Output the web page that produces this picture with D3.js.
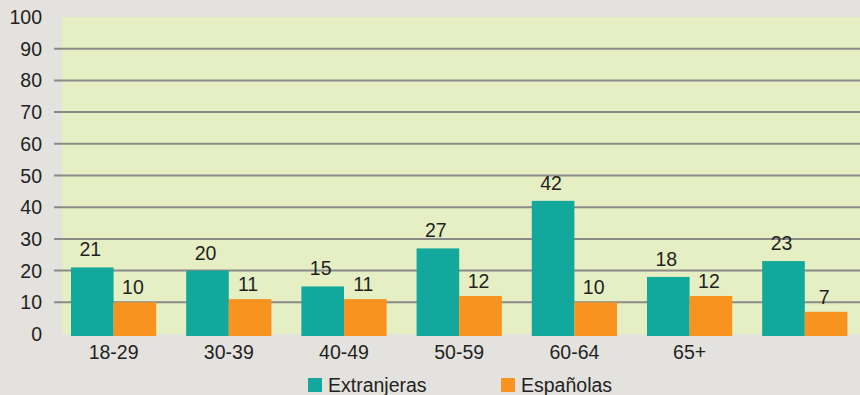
<!DOCTYPE html>
<html>
<head>
<meta charset="utf-8">
<script src="https://cdn.jsdelivr.net/npm/d3@7"></script>
<style>
  html, body { margin: 0; padding: 0; background: #e3e2df; }
  text { font-family: "Liberation Sans", Arial, sans-serif; fill: #231f20; }
</style>
</head>
<body>
<div id="chart"></div>
<script>
const categories = ["18-29", "30-39", "40-49", "50-59", "60-64", "65+", ""];
const extranjeras = [21, 20, 15, 27, 42, 18, 23];
const espanolas = [10, 11, 11, 12, 10, 12, 7];
const seriesNames = ["Extranjeras", "Españolas"];
const yTicks = [0, 10, 20, 30, 40, 50, 60, 70, 80, 90, 100];

const width = 860, height = 395;
const plot = { left: 62, right: 860, top: 17, bottom: 334 };
const colors = ["#12a89c", "#f7931e"];
const fontSize = "19.5px";

const svg = d3.select("#chart").append("svg")
  .attr("width", width)
  .attr("height", height);

// plot background
svg.append("rect")
  .attr("x", plot.left)
  .attr("y", plot.top)
  .attr("width", plot.right - plot.left)
  .attr("height", plot.bottom - plot.top)
  .attr("fill", "#e6efc4");

const y = d3.scaleLinear().domain([0, 100]).range([plot.bottom, plot.top]);

const x = d3.scaleBand()
  .domain(categories)
  .range([56, 862.4])
  .paddingInner(0.26)
  .paddingOuter(0.13);

const xs = d3.scaleBand()
  .domain(seriesNames)
  .range([0, x.bandwidth()]);

// gridlines (no line at 0 or 100)
svg.append("g")
  .selectAll("line")
  .data(yTicks.filter(d => d > 0 && d < 100))
  .join("line")
  .attr("x1", 54)
  .attr("x2", plot.right)
  .attr("y1", d => y(d))
  .attr("y2", d => y(d))
  .attr("stroke", "#8a8a87")
  .attr("stroke-width", 2);

// y axis labels
svg.append("g")
  .selectAll("text")
  .data(yTicks)
  .join("text")
  .attr("x", 42)
  .attr("y", d => y(d))
  .attr("dy", "0.36em")
  .attr("text-anchor", "end")
  .attr("font-size", fontSize)
  .text(d => d);

// bars
const rows = categories.map((c, i) => ({ cat: c, vals: [extranjeras[i], espanolas[i]] }));

const groups = svg.append("g")
  .selectAll("g")
  .data(rows)
  .join("g")
  .attr("transform", d => `translate(${x(d.cat)},0)`);

groups.selectAll("rect")
  .data(d => d.vals.map((v, j) => ({ key: seriesNames[j], v, j })))
  .join("rect")
  .attr("x", d => xs(d.key))
  .attr("y", d => y(d.v))
  .attr("width", xs.bandwidth())
  .attr("height", d => 336 - y(d.v))
  .attr("fill", d => colors[d.j]);

groups.selectAll("text.val")
  .data(d => d.vals.map((v, j) => ({ key: seriesNames[j], v, j })))
  .join("text")
  .attr("class", "val")
  .attr("x", d => xs(d.key) + xs.bandwidth() / 2 - 2)
  .attr("y", d => y(d.v) - (d.j === 0 ? 11 : 8))
  .attr("text-anchor", "middle")
  .attr("font-size", fontSize)
  .text(d => d.v);

// category labels
svg.append("g")
  .selectAll("text")
  .data(categories)
  .join("text")
  .attr("x", d => x(d) + x.bandwidth() / 2)
  .attr("y", 359)
  .attr("text-anchor", "middle")
  .attr("font-size", fontSize)
  .text(d => d);

// legend
const legendX = [308, 501];
const legend = svg.append("g")
  .selectAll("g")
  .data(seriesNames)
  .join("g")
  .attr("transform", (d, i) => `translate(${legendX[i]},378)`);

legend.append("rect")
  .attr("width", 14)
  .attr("height", 14)
  .attr("fill", (d, i) => colors[i]);

legend.append("text")
  .attr("x", 20)
  .attr("y", 14)
  .attr("font-size", fontSize)
  .text(d => d);
</script>
</body>
</html>
